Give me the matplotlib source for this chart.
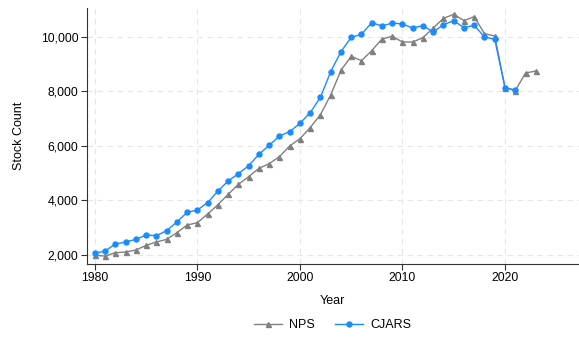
import matplotlib
matplotlib.use('Agg')
import matplotlib.pyplot as plt
from matplotlib.ticker import FuncFormatter

plt.rcParams['font.family'] = ['Liberation Sans', 'DejaVu Sans']

# ── 데이터 ─────────────────────────────────────────────
years_nps = list(range(1980, 2024))
nps = [1988, 1963, 2085, 2110, 2183, 2354, 2477, 2574, 2819, 3100,
       3185, 3503, 3845, 4224, 4591, 4872, 5177, 5348, 5605, 5996,
       6265, 6668, 7145, 7866, 8770, 9283, 9124, 9491, 9919, 10017,
       9809, 9809, 9968, 10322, 10676, 10823, 10591, 10737, 10114, 10029,
       8134, 8024, 8672, 8745]

years_cjars = list(range(1980, 2022))
cjars = [2061, 2147, 2403, 2477, 2574, 2733, 2709, 2892, 3210, 3564,
         3650, 3919, 4346, 4713, 4982, 5275, 5690, 6020, 6363, 6521,
         6827, 7218, 7780, 8721, 9454, 9980, 10090, 10517, 10395, 10505,
         10468, 10322, 10407, 10175, 10444, 10591, 10334, 10420, 9992, 9906,
         8134, 8049]

GRAY = '#808080'
BLUE = '#1a8cff'

fig = plt.figure(figsize=(5.79, 3.39), dpi=100)
ax = fig.add_axes([0.1497, 0.2212, 0.85, 0.7548])

ax.plot(years_nps, nps, '-^', color=GRAY, linewidth=1.0, markersize=3.6, label='NPS', zorder=3)
ax.plot(years_cjars, cjars, '-o', color=BLUE, linewidth=1.0, markersize=3.6, label='CJARS', zorder=4)

ax.set_xlim(1979.2, 2027.2)
ax.set_ylim(1670, 11050)
ax.set_xticks([1980, 1990, 2000, 2010, 2020])
ax.set_yticks([2000, 4000, 6000, 8000, 10000])
ax.yaxis.set_major_formatter(FuncFormatter(lambda v, p: f'{int(v):,}'))

ax.grid(True, color='#e6e6e6', linestyle=(0, (5, 4)), linewidth=0.8, zorder=0)
for s in ['top', 'right']:
    ax.spines[s].set_visible(False)
for s in ['left', 'bottom']:
    ax.spines[s].set_color('#333333')
    ax.spines[s].set_linewidth(0.8)
ax.tick_params(axis='both', labelsize=8.8, color='#333333', length=4, width=0.8, pad=2)

ax.set_xlabel('Year', fontsize=9, labelpad=8)
ax.set_ylabel('Stock Count', fontsize=9, labelpad=11)

# 범례: 축 중앙 기준
ax.legend(loc='center', bbox_to_anchor=(0.5, -0.238), ncol=2, frameon=False,
          fontsize=9, handlelength=2.2, handletextpad=0.6, columnspacing=1.6)

fig.savefig('out.png', dpi=100)
